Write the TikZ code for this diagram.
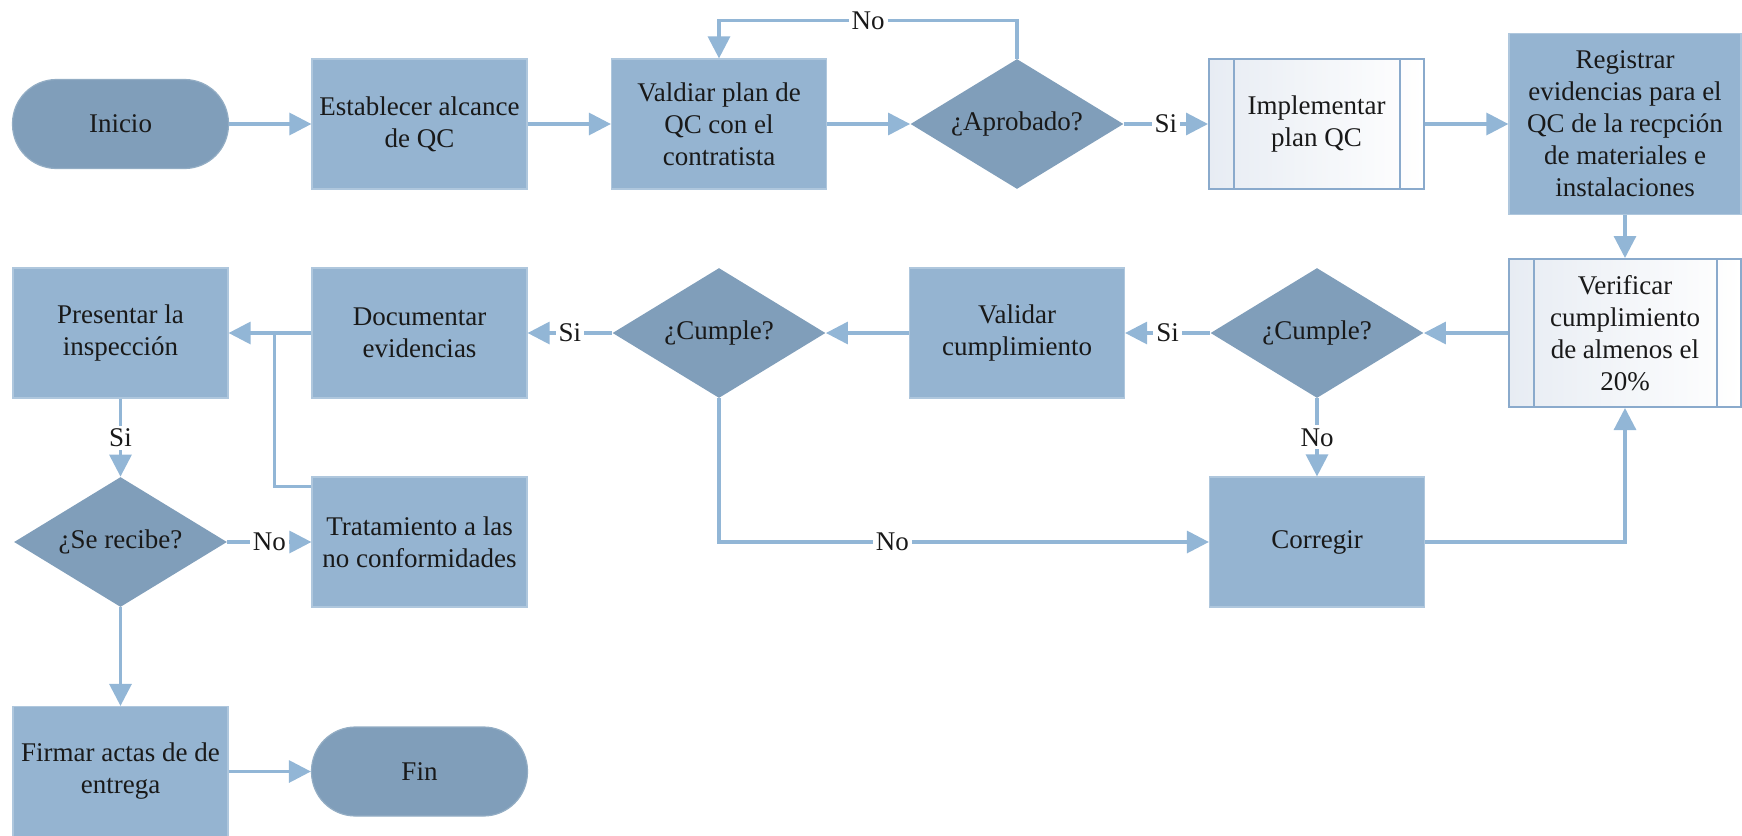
\documentclass[tikz,border=0pt]{standalone}
\usepackage{fontspec}
\setmainfont{Liberation Serif}
\usetikzlibrary{shapes.geometric,arrows.meta}
\definecolor{procfill}{RGB}{149,180,209}
\definecolor{decfill}{RGB}{128,158,186}
\definecolor{linecol}{RGB}{146,182,214}
\definecolor{subedge}{RGB}{138,170,204}
\definecolor{subshade}{RGB}{231,236,243}
\definecolor{txt}{RGB}{25,25,25}
\begin{document}
\begin{tikzpicture}[x=0.5pt,y=-0.5pt,
  every node/.style={font=\fontsize{13.5}{16}\selectfont, text=txt, align=center, inner sep=0pt},
  proc/.style={rectangle, fill=procfill, draw=procfill!75!white, line width=0.6pt,
    minimum width=107.5pt, minimum height=65pt},
  term/.style={rectangle, rounded corners=22pt, fill=decfill, draw=decfill!85!white,
    line width=0.6pt, minimum width=108pt, minimum height=44.5pt},
  decision/.style={diamond, aspect=1.64, fill=decfill, minimum width=106.5pt, minimum height=65pt},
  subproc/.style={rectangle, draw=subedge, line width=1pt, left color=subshade, right color=white,
    minimum width=107.5pt, minimum height=65pt},
  conn/.style={draw=linecol, line width=1.6pt, -{Triangle[length=11pt,width=11pt]}},
  plain/.style={draw=linecol, line width=1.6pt},
  lbl/.style={fill=white, inner sep=1.5pt},
  bar/.style={draw=subedge, line width=1pt}
]
\useasboundingbox (0,0) rectangle (1742,836);

% first row
\node[term] (ini) at (120.5,124) {Inicio};
\node[proc] (est) at (419.5,124) {Establecer alcance\\de QC};
\node[proc] (vpl) at (719,124) {Valdiar plan de\\QC con el\\contratista};
\node[decision] (apr) at (1017,124) {¿Aprobado?};
\node[subproc] (imp) at (1316.5,124) {Implementar\\plan QC};
\node[proc, minimum width=116pt, minimum height=90.5pt] (reg) at (1625,124)
  {Registrar\\evidencias para el\\QC de la recpción\\de materiales e\\instalaciones};

% second row
\node[subproc, minimum width=116pt, minimum height=74pt] (ver) at (1625,333)
  {Verificar\\cumplimiento\\de almenos el\\20\%};
\node[decision] (cu2) at (1317,333) {¿Cumple?};
\node[proc] (vcu) at (1017,333) {Validar\\cumplimiento};
\node[decision] (cu1) at (719,333) {¿Cumple?};
\node[proc] (doc) at (419.5,333) {Documentar\\evidencias};
\node[proc] (pre) at (120.5,333) {Presentar la\\inspección};

% third row
\node[proc] (tra) at (419.5,542) {Tratamiento a las\\no conformidades};
\node[decision] (rec) at (120.5,542) {¿Se recibe?};
\node[proc] (cor) at (1317,542) {Corregir};

% last row
\node[proc] (fir) at (120.5,771.5) {Firmar actas de de\\entrega};
\node[term] (fin) at (419.5,771.5) {Fin};

% side bars of the predefined-process boxes
\foreach \n in {imp,ver}{
  \draw[bar] ([xshift=13pt]\n.north west) -- ([xshift=13pt]\n.south west);
  \draw[bar] ([xshift=-12.5pt]\n.north east) -- ([xshift=-12.5pt]\n.south east);
}

% connectors
\draw[conn] (ini.east) -- (est.west);
\draw[conn] (est.east) -- (vpl.west);
\draw[conn] (vpl.east) -- (apr.west);
\draw[conn] (apr.north) -- ++(0,-38) -| node[lbl,pos=0.25]{No} (vpl.north);
\draw[conn] (apr.east) -- node[lbl]{Si} (imp.west);
\draw[conn] (imp.east) -- (reg.west);
\draw[conn] (reg.south) -- (ver.north);
\draw[conn] (ver.west) -- (cu2.east);
\draw[conn] (cu2.west) -- node[lbl]{Si} (vcu.east);
\draw[conn] (vcu.west) -- (cu1.east);
\draw[conn] (cu1.west) -- node[lbl]{Si} (doc.east);
\draw[conn] (cu1.south) |- node[lbl,pos=0.677]{No} (cor.west);
\draw[conn] (cu2.south) -- node[lbl]{No} (cor.north);
\draw[conn] (cor.east) -| (ver.south);
\draw[conn] (doc.west) -- (pre.east);
\coordinate (join) at (274.4,333);
\draw[plain] ([yshift=-5pt]tra.north west) -| (join);
\draw[conn] (pre.south) -- node[lbl]{Si} (rec.north);
\draw[conn] (rec.east) -- node[lbl]{No} (tra.west);
\draw[conn] (rec.south) -- (fir.north);
\draw[conn] (fir.east) -- (fin.west);
\end{tikzpicture}
\end{document}
